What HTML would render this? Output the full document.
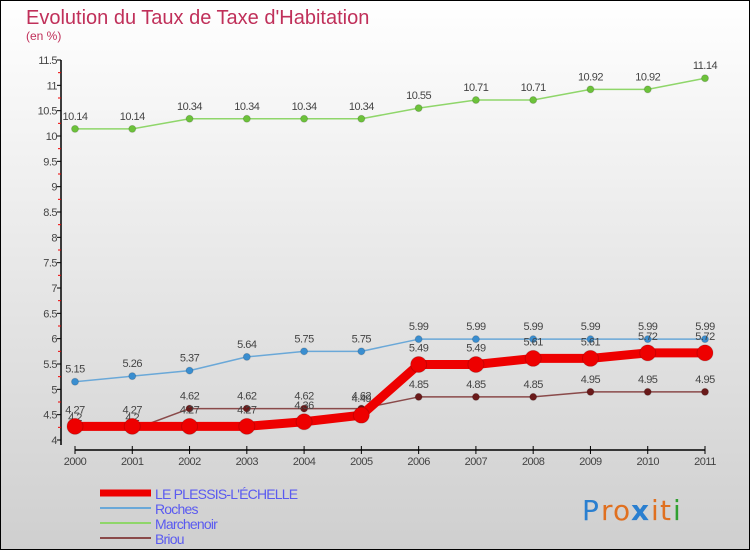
<!DOCTYPE html>
<html><head><meta charset="utf-8"><style>
body{margin:0}
#wrap{width:750px;height:550px;position:relative;overflow:hidden}
svg{font-family:"Liberation Sans",sans-serif}
</style></head><body>
<div id="wrap">
<svg id="chart" width="750" height="550" xmlns="http://www.w3.org/2000/svg">
<defs><linearGradient id="bg" x1="0" y1="0" x2="0" y2="1"><stop offset="0" stop-color="#ffffff"/><stop offset="1" stop-color="#cfcfcf"/></linearGradient></defs>
<rect x="0.5" y="0.5" width="749" height="549" fill="url(#bg)" stroke="#000"/>
<text x="26" y="24" font-size="20" fill="#c0305a">Evolution du Taux de Taxe d'Habitation</text>
<text x="26" y="40" font-size="12" fill="#c0305a">(en %)</text>
<g id="axes"></g><g id="series"></g><g id="legend"></g>
<g font-size="28" font-family="DejaVu Sans, sans-serif">
<text x="582" y="520" fill="#2a7fd0">P</text><text x="601" y="520" fill="#e07020">r</text><text x="613" y="520" fill="#e07020">o</text><text x="631" y="520" fill="#2a7fd0" font-weight="bold">x</text><text x="651" y="520" fill="#e07020">i</text><text x="660" y="520" fill="#e07020">t</text><text x="673" y="520" fill="#30a030">i</text>
</g>
</svg></div>
<script>
const years=[2000,2001,2002,2003,2004,2005,2006,2007,2008,2009,2010,2011];
const plessis=[4.27,4.27,4.27,4.27,4.36,4.49,5.49,5.49,5.61,5.61,5.72,5.72];
const roches=[5.15,5.26,5.37,5.64,5.75,5.75,5.99,5.99,5.99,5.99,5.99,5.99];
const marchenoir=[10.14,10.14,10.34,10.34,10.34,10.34,10.55,10.71,10.71,10.92,10.92,11.14];
const briou=[4.2,4.2,4.62,4.62,4.62,4.62,4.85,4.85,4.85,4.95,4.95,4.95];
const yTicks=[4,4.5,5,5.5,6,6.5,7,7.5,8,8.5,9,9.5,10,10.5,11,11.5];
const yMin=4,yMax=11.5;
const NS="http://www.w3.org/2000/svg";
function X(i){return 75+i*(705-75)/(years.length-1);}
function Y(v){return 440-(v-yMin)*(380/(yMax-yMin));}
function mk(tag,attrs,parent,txt){const e=document.createElementNS(NS,tag);for(const k in attrs)e.setAttribute(k,attrs[k]);if(txt!==undefined)e.textContent=txt;parent.appendChild(e);return e;}
const axes=document.getElementById('axes');
let e=mk('line',{x1:61,y1:Y(yMax),x2:61,y2:445,stroke:'#000','stroke-width':1.5},axes);


yTicks.forEach(v=>{
 let t=mk('line',{x1:57,x2:61,y1:Y(v),y2:Y(v),stroke:'#000'},axes);
 
 
 if(v<yMax){
  let m=mk('line',{x1:58,x2:61,y1:Y(v+0.25),y2:Y(v+0.25),stroke:'#e00'},axes);
  
  
 }
 let l=mk('text',{x:57,y:Y(v)+4,'font-size':11,'text-anchor':'end',fill:'#444','letter-spacing':'-0.5'},axes,String(v));
 
 
});
e=mk('line',{x1:75,y1:450,x2:705,y2:450,stroke:'#000','stroke-width':1.5},axes);


years.forEach((yr,i)=>{
 let t=mk('line',{x1:X(i),x2:X(i),y1:446,y2:454,stroke:'#000'},axes);
 
 
 let l=mk('text',{x:X(i),y:465,'font-size':11,'text-anchor':'middle',fill:'#444','letter-spacing':'-0.5'},axes,String(yr));
 
 
});
const seriesG=document.getElementById('series');
const defs=[
 {name:'marchenoir',data:marchenoir,color:'#8fd66a',dot:'#6cc23a',w:1.5,r:3.5},
 {name:'roches',data:roches,color:'#6aa8d8',dot:'#3a8ed0',w:1.5,r:3.5},
 {name:'briou',data:briou,color:'#8a4a4a',dot:'#6a1a1a',w:1.5,r:3.5},
 {name:'le-plessis',data:plessis,color:'#ee0000',dot:'#ee0000',w:9,r:8}
];
defs.forEach(s=>{
 const g=mk('g',{},seriesG);
 
 
 const pts=s.data.map((v,i)=>X(i)+','+Y(v)).join(' ');
 const pl=mk('polyline',{points:pts,fill:'none',stroke:s.color,'stroke-width':s.w,'stroke-linejoin':'round'},g);
 
 
 s.data.forEach((v,i)=>{
  const c=mk('circle',{cx:X(i),cy:Y(v),r:s.r,fill:s.dot,stroke:'rgba(0,0,0,0.15)'},g);
  
  
  const t=mk('text',{x:X(i),y:Y(v)-(s.r>5?13:9),'font-size':11,'text-anchor':'middle',fill:'#444','letter-spacing':'-0.5'},g,String(v));
  
  
 });
});
const leg=document.getElementById('legend');
const legItems=[['LE PLESSIS-L\'ÉCHELLE','#ee0000',7],['Roches','#6aa8d8',2],['Marchenoir','#8fd66a',2],['Briou','#8a4a4a',2]];
legItems.forEach((it,k)=>{
 const y=493+k*15;
 const g=mk('g',{},leg);
 
 
 const r=mk('rect',{x:100,y:y-it[2]/2,width:51,height:it[2],fill:it[1]},g);
 
 
 const t=mk('text',{x:155,y:y+6,'font-size':14,fill:'#5a5af0','letter-spacing':'-0.8'},g,it[0]);
 
 
});
</script>
</body></html>
